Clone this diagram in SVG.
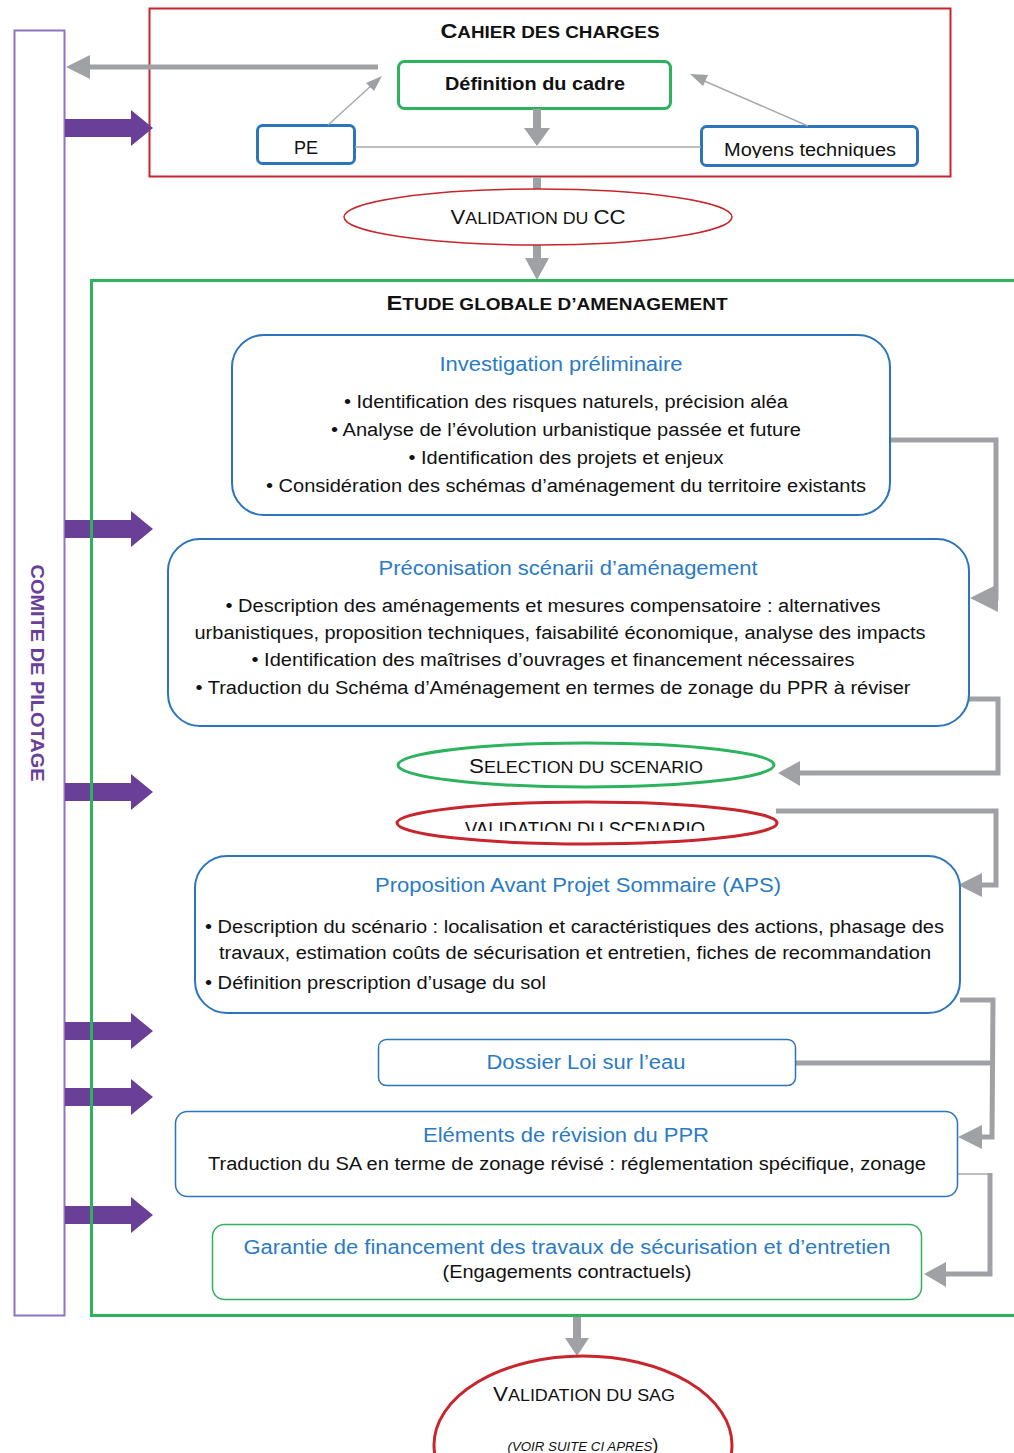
<svg xmlns="http://www.w3.org/2000/svg" width="1014" height="1453" viewBox="0 0 1014 1453">
<style>
text{font-family:"Liberation Sans",Arial,sans-serif;fill:#111}
.b{font-weight:bold}
.blue{fill:#2a7bc6}
.t18{font-size:18px}
.t20{font-size:20px}
.box{fill:#fff;stroke:#2a75bd;stroke-width:2}
.gbox{fill:#fff;stroke:#2db35e}
.conn{fill:none;stroke:#9fa1a4;stroke-width:5}
.thin{fill:none;stroke:#a7a9ac;stroke-width:1.5}
.head{fill:#9fa1a4}
.pa{fill:#6a3f98}
</style>
<defs>
<clipPath id="cm"><rect x="701" y="126" width="218" height="32"/></clipPath>
<clipPath id="cv"><rect x="380" y="800" width="420" height="31"/></clipPath>
</defs>

<g id="comite">
<rect x="14.5" y="30.5" width="50" height="1285" fill="#fff" stroke="#8f72c4" stroke-width="2"/>
<text transform="translate(31,673) rotate(90)" text-anchor="middle" class="b" font-size="18" style="fill:#6a3f98" textLength="217" lengthAdjust="spacingAndGlyphs">COMITE DE PILOTAGE</text>
</g>

<g id="cahier">
<rect x="149.5" y="8.5" width="801" height="168" fill="none" stroke="#c8252c" stroke-width="2"/>
<text x="550" y="38" text-anchor="middle" class="b" textLength="219" lengthAdjust="spacingAndGlyphs"><tspan font-size="21">C</tspan><tspan font-size="17">AHIER DES CHARGES</tspan></text>
</g>

<g id="definition">
<rect x="398.5" y="61.5" width="272" height="47" rx="6" fill="#fff" stroke="#2db35e" stroke-width="3"/>
<text x="535" y="90" text-anchor="middle" class="b t18" textLength="180" lengthAdjust="spacingAndGlyphs">Définition du cadre</text>
</g>

<g id="pe">
<rect x="257.5" y="125.5" width="97" height="38" rx="5" fill="#fff" stroke="#2a75bd" stroke-width="3"/>
<text x="306" y="154" text-anchor="middle" class="t18">PE</text>
</g>

<g id="moyens">
<rect x="701.5" y="126.5" width="216" height="39" rx="5" fill="#fff" stroke="#2a75bd" stroke-width="3"/>
<text x="810" y="156" text-anchor="middle" class="t18" clip-path="url(#cm)" textLength="172" lengthAdjust="spacingAndGlyphs">Moyens techniques</text>
</g>

<g id="connectors">
<!-- top left arrow to comite -->
<line x1="378" y1="67" x2="88" y2="67" class="conn"/>
<polygon points="66,67 90,55 90,79" class="head"/>
<!-- PE and moyens thin -->
<line x1="355" y1="147" x2="701" y2="147" class="thin"/>
<line x1="328" y1="125" x2="372" y2="85" class="thin"/>
<polygon points="382,76 366,83 374,91" class="head"/>
<line x1="808" y1="126" x2="702" y2="80" class="thin"/>
<polygon points="690,74 708,75 703,86" class="head"/>
<!-- definition down -->
<rect x="533" y="109" width="8" height="20" class="head"/>
<polygon points="524,128 550,128 537,146" class="head"/>
<rect x="533" y="177" width="8" height="14" class="head"/>
<rect x="533" y="245" width="8" height="14" class="head"/>
<polygon points="525,258 549,258 537,280" class="head"/>
<!-- bottom -->
<rect x="573" y="1316" width="8" height="24" class="head"/>
<polygon points="565,1338 589,1338 577,1356" class="head"/>
<!-- right connectors -->
<polyline points="890,440 996,440 996,598 992,598" class="conn"/>
<polygon points="970,598 998,584 998,612" class="head"/>
<polyline points="969,699 998,699 998,773 800,773" class="conn" stroke-width="4"/>
<polygon points="778,773 800,761 800,786" class="head"/>
<polyline points="776,811 996,811 996,885 980,885" class="conn" stroke-width="4"/>
<polygon points="958,885 982,873 982,897" class="head"/>
<polyline points="960,1000 993,1000 992,1137 980,1137" class="conn" stroke-width="4"/>
<line x1="795" y1="1063" x2="993" y2="1063" class="conn" stroke-width="4"/>
<polygon points="958,1137 982,1125 982,1149" class="head"/>
<line x1="957" y1="1174" x2="990" y2="1174" class="thin"/>
<polyline points="990,1173 990,1274 946,1274" class="conn" stroke-width="4"/>
<polygon points="924,1274 946,1262 946,1287" class="head"/>
<!-- purple arrows -->
<g class="pa">
<polygon points="65,119 131,119 131,110 153,128 131,146 131,137 65,137"/>
<polygon points="65,520 131,520 131,511 153,529 131,547 131,538 65,538"/>
<polygon points="65,783 131,783 131,774 153,792 131,810 131,801 65,801"/>
<polygon points="65,1022 131,1022 131,1013 153,1031 131,1049 131,1040 65,1040"/>
<polygon points="65,1088 131,1088 131,1079 153,1097 131,1115 131,1106 65,1106"/>
<polygon points="65,1206 131,1206 131,1197 153,1215 131,1233 131,1224 65,1224"/>
</g>
</g>

<g id="validation-cc">
<ellipse cx="538" cy="217" rx="194" ry="28" fill="#fff" stroke="#c8252c" stroke-width="1.5"/>
<text x="538" y="224" text-anchor="middle" textLength="175" lengthAdjust="spacingAndGlyphs"><tspan font-size="20">V</tspan><tspan font-size="16">ALIDATION DU </tspan><tspan font-size="20">CC</tspan></text>
</g>

<g id="etude">
<path d="M1014,280.5 H91.5 V1315.5 H1014" fill="none" stroke="#2db35e" stroke-width="3"/>
<text x="557" y="310" text-anchor="middle" class="b" textLength="341" lengthAdjust="spacingAndGlyphs"><tspan font-size="20">E</tspan><tspan font-size="16">TUDE GLOBALE D’AMENAGEMENT</tspan></text>
</g>

<g id="investigation">
<rect x="232" y="335" width="658" height="180" rx="32" class="box"/>
<text x="561" y="371" text-anchor="middle" class="t20 blue" textLength="243" lengthAdjust="spacingAndGlyphs">Investigation préliminaire</text>
<text x="566" y="408" text-anchor="middle" class="t18" textLength="444" lengthAdjust="spacingAndGlyphs">• Identification des risques naturels, précision aléa</text>
<text x="566" y="436" text-anchor="middle" class="t18" textLength="470" lengthAdjust="spacingAndGlyphs">• Analyse de l’évolution urbanistique passée et future</text>
<text x="566" y="464" text-anchor="middle" class="t18" textLength="315" lengthAdjust="spacingAndGlyphs">• Identification des projets et enjeux</text>
<text x="566" y="492" text-anchor="middle" class="t18" textLength="600" lengthAdjust="spacingAndGlyphs">• Considération des schémas d’aménagement du territoire existants</text>
</g>

<g id="preconisation">
<rect x="168" y="539" width="801" height="187" rx="32" class="box"/>
<text x="568" y="575" text-anchor="middle" class="t20 blue" textLength="379" lengthAdjust="spacingAndGlyphs">Préconisation scénarii d’aménagement</text>
<text x="553" y="612" text-anchor="middle" class="t18" textLength="655" lengthAdjust="spacingAndGlyphs">• Description des aménagements et mesures compensatoire : alternatives</text>
<text x="560" y="639" text-anchor="middle" class="t18" textLength="731" lengthAdjust="spacingAndGlyphs">urbanistiques, proposition techniques, faisabilité économique, analyse des impacts</text>
<text x="553" y="666" text-anchor="middle" class="t18" textLength="603" lengthAdjust="spacingAndGlyphs">• Identification des maîtrises d’ouvrages et financement nécessaires</text>
<text x="553" y="694" text-anchor="middle" class="t18" textLength="715" lengthAdjust="spacingAndGlyphs">• Traduction du Schéma d’Aménagement en termes de zonage du PPR à réviser</text>
</g>

<g id="selection">
<ellipse cx="586" cy="765" rx="188" ry="22" fill="#fff" stroke="#2db35e" stroke-width="3"/>
<text x="586" y="773" text-anchor="middle" textLength="234" lengthAdjust="spacingAndGlyphs"><tspan font-size="20">S</tspan><tspan font-size="16">ELECTION DU SCENARIO</tspan></text>
</g>

<g id="validation-scenario">
<ellipse cx="587" cy="823" rx="190" ry="21" fill="#fff" stroke="#c8252c" stroke-width="3"/>
<text x="585" y="836" text-anchor="middle" font-size="20" clip-path="url(#cv)" textLength="240" lengthAdjust="spacingAndGlyphs">VALIDATION DU SCENARIO</text>
</g>

<g id="aps">
<rect x="195" y="856" width="765" height="157" rx="32" class="box"/>
<text x="578" y="892" text-anchor="middle" class="t20 blue" textLength="406" lengthAdjust="spacingAndGlyphs">Proposition Avant Projet Sommaire (APS)</text>
<text x="205" y="933" class="t18" textLength="739" lengthAdjust="spacingAndGlyphs">• Description du scénario : localisation et caractéristiques des actions, phasage des</text>
<text x="219" y="959" class="t18" textLength="712" lengthAdjust="spacingAndGlyphs">travaux, estimation coûts de sécurisation et entretien, fiches de recommandation</text>
<text x="205" y="989" class="t18" textLength="341" lengthAdjust="spacingAndGlyphs">• Définition prescription d’usage du sol</text>
</g>

<g id="dossier">
<rect x="378.5" y="1039.5" width="417" height="46" rx="8" fill="#fff" stroke="#2a75bd" stroke-width="1.5"/>
<text x="586" y="1069" text-anchor="middle" class="t20 blue" textLength="199" lengthAdjust="spacingAndGlyphs">Dossier Loi sur l’eau</text>
</g>

<g id="elements">
<rect x="175.5" y="1111.5" width="782" height="85" rx="12" fill="#fff" stroke="#2a75bd" stroke-width="1.5"/>
<text x="566" y="1142" text-anchor="middle" class="t20 blue" textLength="286" lengthAdjust="spacingAndGlyphs">Eléments de révision du PPR</text>
<text x="567" y="1170" text-anchor="middle" class="t18" textLength="718" lengthAdjust="spacingAndGlyphs">Traduction du SA en terme de zonage révisé : réglementation spécifique, zonage</text>
</g>

<g id="garantie">
<rect x="212.5" y="1224.5" width="709" height="75" rx="12" fill="#fff" stroke="#2db35e" stroke-width="1.5"/>
<text x="567" y="1254" text-anchor="middle" class="t20 blue" textLength="647" lengthAdjust="spacingAndGlyphs">Garantie de financement des travaux de sécurisation et d’entretien</text>
<text x="567" y="1278" text-anchor="middle" class="t18" textLength="249" lengthAdjust="spacingAndGlyphs">(Engagements contractuels)</text>
</g>

<g id="validation-sag">
<ellipse cx="583" cy="1445" rx="149" ry="89" fill="#fff" stroke="#c8252c" stroke-width="3"/>
<text x="584" y="1401" text-anchor="middle" textLength="182" lengthAdjust="spacingAndGlyphs"><tspan font-size="20">V</tspan><tspan font-size="16">ALIDATION DU SAG</tspan></text>
<text x="583" y="1451" text-anchor="middle" font-style="italic" textLength="151" lengthAdjust="spacingAndGlyphs"><tspan font-size="13">(VOIR SUITE CI APRES</tspan><tspan font-size="18" font-style="normal">)</tspan></text>
</g>
</svg>
